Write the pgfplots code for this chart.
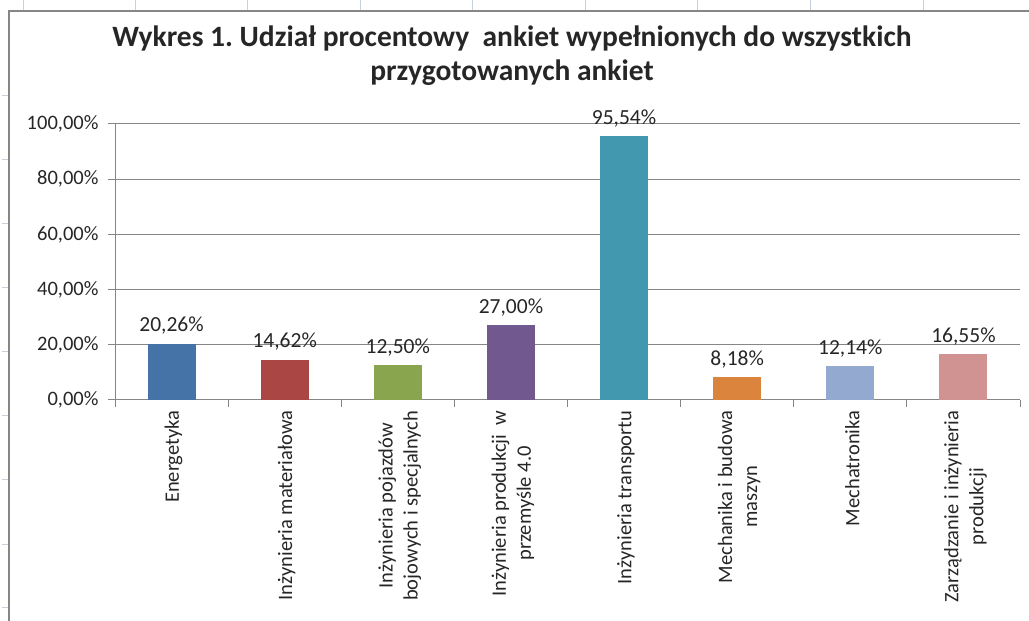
\documentclass[border=0pt]{standalone}
\usepackage{pgfplots}
\pgfplotsset{compat=1.18}
\usepackage{fontspec}
\setmainfont{Carlito}
\frenchspacing
\definecolor{c1}{HTML}{4572A7}
\definecolor{c2}{HTML}{AA4643}
\definecolor{c3}{HTML}{89A54E}
\definecolor{c4}{HTML}{71588F}
\definecolor{c5}{HTML}{4198AF}
\definecolor{c6}{HTML}{DB843D}
\definecolor{c7}{HTML}{93A9CF}
\definecolor{c8}{HTML}{D19392}
\definecolor{axgray}{HTML}{868686}
\definecolor{cellgrid}{HTML}{C8D0DE}
\begin{document}
\begin{tikzpicture}[x=1pt,y=1pt]
% sheet cell grid marks outside chart frame
\foreach \xx in {23,135,247,360,472,585,697,810,923} \draw[cellgrid,line width=0.8pt] (\xx,621) -- (\xx,611);
\foreach \yy in {95,159,223,287,351,415,479,544,607} \draw[cellgrid,line width=0.8pt] (2,621-\yy) -- (9,621-\yy);
% chart frame
\draw[axgray,line width=1.3pt] (9,-10) -- (9,610) -- (1040,610);
% title
\node[align=center,font=\fontsize{29.5}{34}\selectfont\bfseries,text=black!85] at (512,565.5)
  {Wykres 1. Udział procentowy \ ankiet wypełnionych do wszystkich\\przygotowanych ankiet};
\begin{axis}[
  at={(115pt,221pt)}, anchor=origin,
  width=905pt, height=276pt, scale only axis,
  xmin=0.5, xmax=8.5, ymin=0, ymax=100,
  ybar, bar width=48pt, bar shift=0pt,
  axis x line*=bottom, axis y line*=left,
  axis line style={axgray,line width=1pt},
  ymajorgrids, grid style={axgray,line width=1pt},
  tick style={axgray,line width=1pt},
  tick align=outside, major tick length=7pt,
  ytick={0,20,40,60,80,100},
  /pgf/number format/assume math mode=true,
  yticklabel={\pgfmathprintnumber[fixed,fixed zerofill,precision=2,use comma]{\tick}\%},
  yticklabel style={font=\fontsize{20.5}{22}\selectfont,text=black!85,xshift=-6pt},
  xtick={0.5,1.5,...,8.5},
  x tick label as interval,
  xticklabels={Energetyka,Inżynieria materiałowa,{Inżynieria pojazdów\\bojowych i specjalnych},{Inżynieria produkcji \ w\\przemyśle 4.0},Inżynieria transportu,{Mechanika i budowa\\maszyn},Mechatronika,{Zarządzanie i inżynieria\\produkcji}},
  xticklabel style={rotate=90,anchor=east,align=center,font=\fontsize{20.5}{25}\selectfont,text=black!85,yshift=-2pt},
  nodes near coords={\pgfmathprintnumber[fixed,fixed zerofill,precision=2,use comma]{\pgfplotspointmeta}\%},
  nodes near coords style={font=\fontsize{21.5}{22}\selectfont,text=black!85,yshift=6pt},
  clip=false,
]
\addplot[fill=c1,draw=none] coordinates {(1,20.26)};
\addplot[fill=c2,draw=none] coordinates {(2,14.62)};
\addplot[fill=c3,draw=none] coordinates {(3,12.50)};
\addplot[fill=c4,draw=none] coordinates {(4,27.00)};
\addplot[fill=c5,draw=none] coordinates {(5,95.54)};
\addplot[fill=c6,draw=none] coordinates {(6,8.18)};
\addplot[fill=c7,draw=none] coordinates {(7,12.14)};
\addplot[fill=c8,draw=none] coordinates {(8,16.55)};
\end{axis}
\pgfresetboundingbox
\path[use as bounding box] (0,0) rectangle (1029,621);
\end{tikzpicture}
\end{document}
